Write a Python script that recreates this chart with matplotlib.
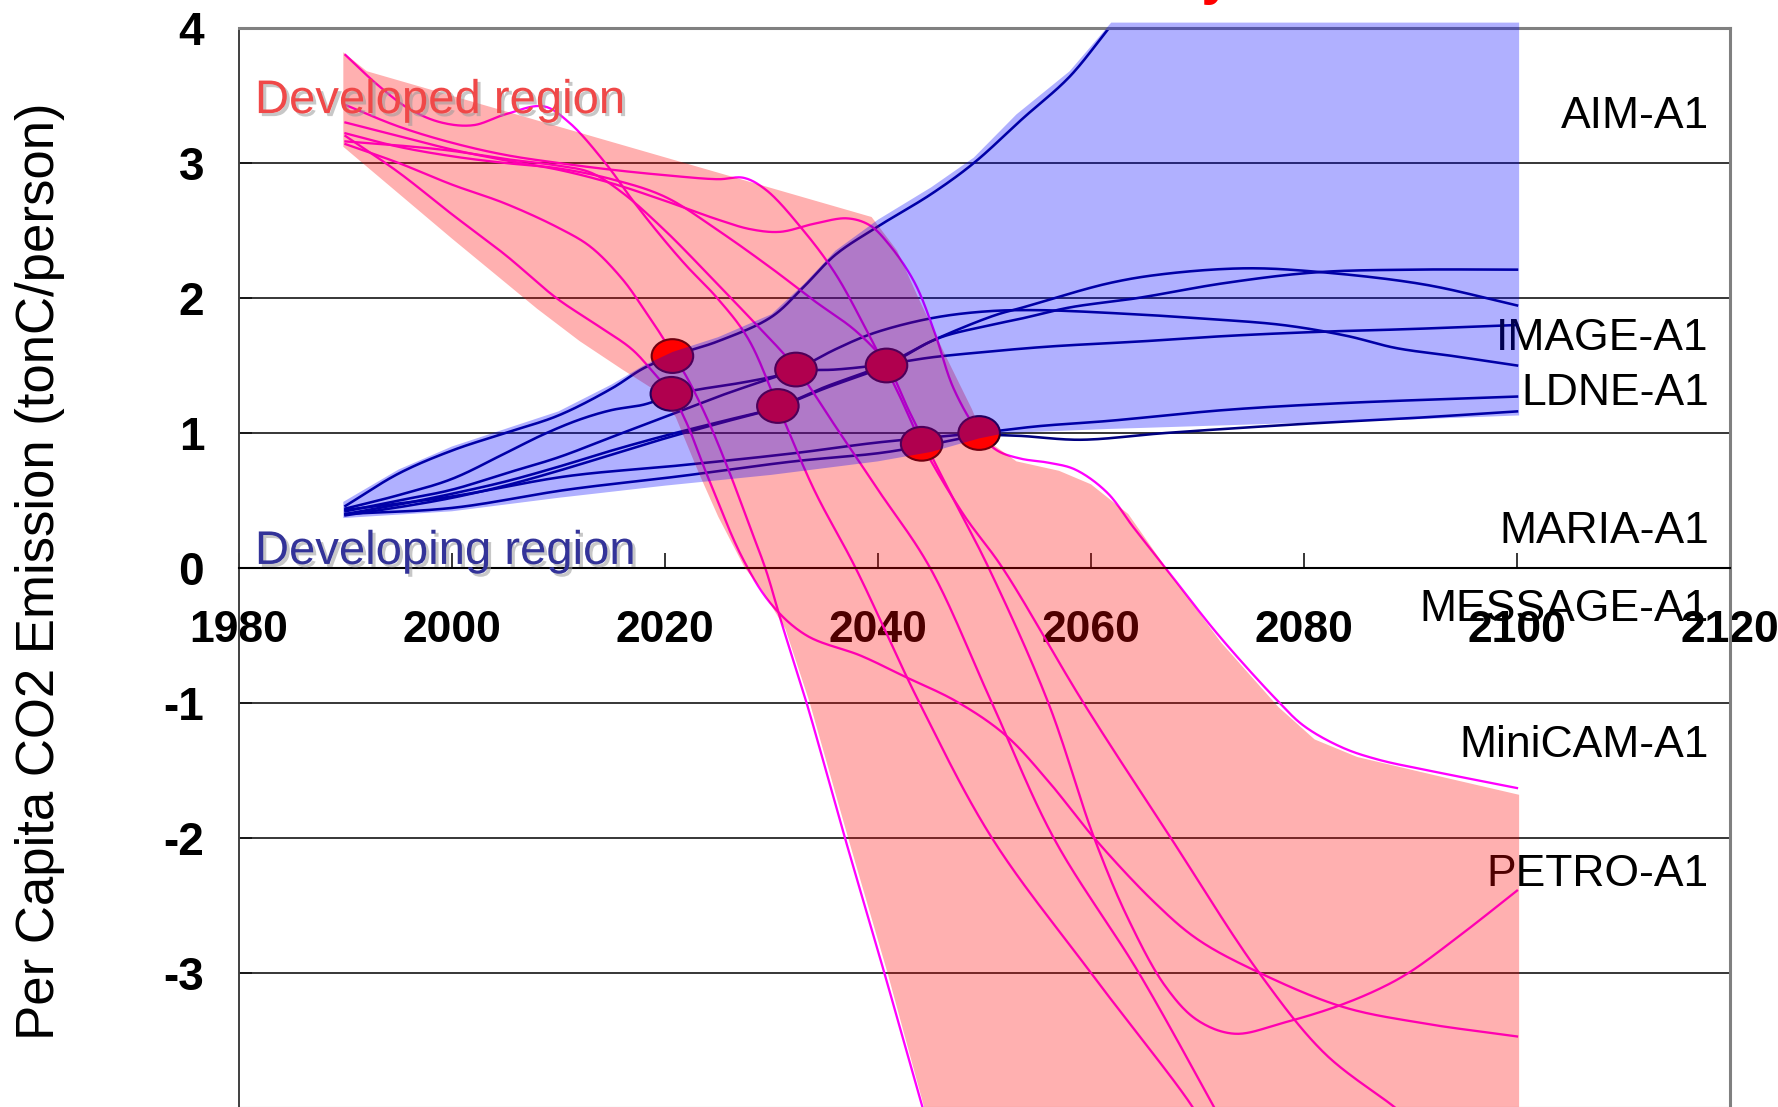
import numpy as np
import matplotlib
matplotlib.use("Agg")
import matplotlib.pyplot as plt
from matplotlib.patches import Ellipse
import matplotlib.patheffects as pe
from matplotlib import font_manager

plt.rcParams['axes.unicode_minus'] = False


def pick_font(cands):
    for c in cands:
        try:
            font_manager.findfont(font_manager.FontProperties(family=c),
                                  fallback_to_default=False)
            return c
        except Exception:
            pass
    return 'DejaVu Sans'


SANS = pick_font(['Liberation Sans', 'Arial', 'DejaVu Sans'])

# ---------------------------------------------------------------- data
x_ticks = [1980, 2000, 2020, 2040, 2060, 2080, 2100, 2120]
y_ticks = [-3, -2, -1, 0, 1, 2, 3, 4]

# developed-region scenarios (year, tC/person)
developed_1 = [(1990, 3.80), (1993, 3.58), (1996, 3.40), (1999, 3.30), (2002, 3.28),
               (2005, 3.36), (2008.6, 3.42), (2011, 3.30), (2014.4, 3.00), (2017, 2.72),
               (2019.5, 2.47), (2022, 2.24), (2024.9, 2.00), (2027.8, 1.70), (2030.6, 1.20),
               (2034, 0.58), (2037.9, 0.0), (2043.9, -1.0), (2050.7, -2.0), (2060, -3.0),
               (2069.6, -4.0), (2071, -4.2)]
developed_2 = [(1990, 3.43), (1995, 3.27), (2000, 3.15), (2005, 3.06), (2010, 3.00),
               (2015, 2.95), (2020, 2.91), (2025, 2.88), (2027.4, 2.89), (2029.5, 2.80),
               (2033, 2.50), (2036, 2.18), (2039, 1.75), (2042, 1.28), (2044.1, 0.92),
               (2048, 0.40), (2051.7, 0.0), (2059.3, -1.0), (2067.5, -2.0), (2075.8, -3.0),
               (2082, -3.6), (2088.6, -4.0), (2090, -4.1)]
developed_3 = [(1990, 3.30), (1995, 3.20), (2000, 3.10), (2005, 3.02), (2010, 2.95),
               (2015, 2.85), (2020, 2.72), (2025, 2.58), (2028, 2.51), (2030.8, 2.49),
               (2034, 2.55), (2037.1, 2.59), (2039.2, 2.54), (2041, 2.40), (2043.4, 2.12),
               (2045.3, 1.75), (2047.1, 1.33), (2049.5, 1.00), (2051.2, 0.87), (2053.4, 0.81),
               (2056, 0.78), (2058.5, 0.73), (2061.5, 0.56), (2064, 0.30), (2067, 0.0),
               (2072, -0.5), (2077.6, -0.99), (2080, -1.17), (2083.6, -1.33), (2087, -1.42),
               (2091.7, -1.50), (2100, -1.63)]
developed_4 = [(1990, 3.20), (1995, 2.93), (2000, 2.62), (2005, 2.32), (2009.8, 2.00),
               (2013.6, 1.80), (2016.9, 1.62), (2019, 1.44), (2020.6, 1.29), (2022, 1.08),
               (2024, 0.68), (2027.3, 0.07), (2030, -0.27), (2033.3, -0.50), (2038.4, -0.65),
               (2042.4, -0.80), (2047.4, -0.99), (2052, -1.24), (2056, -1.58), (2060.3, -2.0),
               (2066, -2.48), (2070, -2.75), (2075.6, -2.99), (2083.6, -3.25), (2091, -3.37),
               (2100, -3.47)]
developed_5 = [(1990, 3.14), (1995, 3.00), (2000, 2.84), (2005, 2.70), (2010, 2.52),
               (2013, 2.38), (2016, 2.14), (2018, 1.92), (2020, 1.68), (2020.7, 1.58),
               (2022, 1.42), (2024, 1.10), (2026, 0.72), (2028, 0.30), (2029.5, -0.02),
               (2031, -0.42), (2033.3, -1.0), (2036.9, -2.0), (2040.6, -3.0), (2044.2, -4.0),
               (2045, -4.2)]
developed_6 = [(1990, 3.16), (1995, 3.13), (2000, 3.09), (2005, 3.03), (2010, 2.98),
               (2013, 2.93), (2016, 2.78), (2020, 2.50), (2024, 2.18), (2028, 1.85),
               (2032.3, 1.48), (2036, 1.05), (2040, 0.58), (2044.9, 0.0), (2050.7, -1.0),
               (2056.5, -2.0), (2064.5, -3.0), (2071.6, -4.0), (2073, -4.2)]
developed_7 = [(1990, 3.22), (1995, 3.12), (2000, 3.05), (2005, 3.00), (2010, 2.96),
               (2015, 2.88), (2020, 2.75), (2025, 2.50), (2030, 2.22), (2034, 1.98),
               (2038, 1.75), (2040.8, 1.51), (2043, 1.15), (2046.5, 0.60), (2050.4, 0.0),
               (2056, -1.0), (2060.3, -2.0), (2063.5, -2.6), (2067, -3.1), (2070, -3.35),
               (2073.5, -3.45), (2078, -3.37), (2083, -3.25), (2087, -3.12), (2090, -2.99),
               (2095, -2.70), (2100, -2.39)]

# developing-region scenarios (year, tC/person)
developing_1 = [(1990, 0.46), (1995, 0.70), (2000, 0.87), (2005, 1.00), (2010, 1.13),
                (2015, 1.33), (2018, 1.48), (2020.7, 1.57), (2025, 1.68), (2030, 1.86),
                (2033, 2.08), (2036, 2.32), (2040, 2.53), (2045, 2.77), (2049, 3.00),
                (2053.6, 3.33), (2058, 3.64), (2061.7, 4.0), (2063, 4.12)]
developing_2 = [(1990, 0.44), (1995, 0.54), (2000, 0.66), (2005, 0.85), (2008.6, 0.99),
                (2012, 1.10), (2015, 1.17), (2018, 1.21), (2020.7, 1.28), (2023, 1.32),
                (2027, 1.37), (2030.3, 1.42), (2032.3, 1.46), (2036, 1.47), (2040.8, 1.51),
                (2045, 1.56), (2050, 1.60), (2056, 1.64), (2065, 1.68), (2073, 1.72),
                (2081.6, 1.75), (2090, 1.77), (2100, 1.80)]
developing_3 = [(1990, 0.42), (1995, 0.50), (2000, 0.58), (2005, 0.70), (2010, 0.82),
                (2015, 0.97), (2020, 1.12), (2025, 1.27), (2029, 1.38), (2032.3, 1.47),
                (2036, 1.62), (2039.6, 1.74), (2045, 1.85), (2050, 1.90), (2055, 1.91),
                (2064, 1.88), (2070, 1.85), (2078, 1.80), (2084, 1.72), (2088.6, 1.63),
                (2094, 1.57), (2100, 1.50)]
developing_4 = [(1990, 0.40), (1995, 0.47), (2000, 0.55), (2005, 0.64), (2010, 0.75),
                (2015, 0.87), (2020, 0.98), (2025, 1.08), (2030.5, 1.19), (2035, 1.33),
                (2040.8, 1.50), (2045.6, 1.70), (2050, 1.79), (2053.6, 1.85), (2058, 1.93),
                (2064.4, 2.00), (2072.5, 2.11), (2081.1, 2.19), (2090, 2.21), (2100, 2.21)]
developing_5 = [(1990, 0.39), (1995, 0.45), (2000, 0.52), (2005, 0.61), (2010, 0.72),
                (2015, 0.84), (2020, 0.96), (2025, 1.07), (2030.5, 1.19), (2035, 1.34),
                (2040.8, 1.51), (2045, 1.68), (2050.9, 1.87), (2053.6, 1.93), (2061.7, 2.11),
                (2067.1, 2.18), (2074.6, 2.22), (2081.1, 2.195), (2091.3, 2.10), (2100, 1.945)]
developing_6 = [(1990, 0.43), (2000, 0.53), (2010.8, 0.68), (2021.4, 0.76), (2032.1, 0.85),
                (2040, 0.93), (2049.5, 1.00), (2055, 1.05), (2061.7, 1.09), (2072.5, 1.17),
                (2083.2, 1.22), (2100, 1.27)]
developing_7 = [(1990, 0.40), (2000, 0.445), (2010.8, 0.58), (2021.4, 0.68), (2032.1, 0.79),
                (2040, 0.85), (2044, 0.90), (2049.5, 0.98), (2053, 0.98), (2059, 0.95),
                (2067, 1.00), (2080.5, 1.07), (2090, 1.11), (2100, 1.16)]

# year in which developing-region per-capita emission overtakes developed
cross_years = [2020.7, 2020.6, 2032.3, 2030.6, 2040.8, 2044.1, 2049.5]
cross_values = [1.57, 1.29, 1.47, 1.20, 1.50, 0.92, 1.00]

# range bands
developed_band_upper = [(1989.8, 3.82), (1992, 3.68), (2039.4, 2.60), (2041.8, 2.35),
                        (2043.8, 2.00), (2046.3, 1.58), (2048.8, 1.18), (2050, 0.96),
                        (2053, 0.79), (2057, 0.72), (2060, 0.62), (2063.5, 0.40),
                        (2067.5, -0.05), (2072.2, -0.55), (2077.6, -1.03), (2081, -1.27),
                        (2085, -1.40), (2092, -1.53), (2100.2, -1.68), (2100.2, -4.1)]
developed_band_lower = [(1989.8, 3.12), (2000, 2.44), (2008, 1.92), (2012, 1.68),
                        (2016, 1.47), (2019, 1.32), (2021, 1.12), (2023.2, 0.70),
                        (2025, 0.38), (2027.5, 0.0), (2029, -0.15), (2031.3, -0.45),
                        (2033.6, -1.0), (2037.2, -2.0), (2040.9, -3.0), (2044.7, -4.1)]
developing_band_upper = [(1989.8, 0.49), (1995, 0.73), (2000, 0.90), (2005, 1.03),
                         (2010, 1.16), (2015, 1.36), (2018, 1.50), (2020.7, 1.60),
                         (2025, 1.71), (2030, 1.88), (2033, 2.10), (2036, 2.35),
                         (2040, 2.58), (2045, 2.82), (2049, 3.04), (2053, 3.36),
                         (2058, 3.68), (2061.9, 4.04), (2100.2, 4.04)]
developing_band_lower = [(1989.8, 0.37), (2000, 0.42), (2010, 0.52), (2020, 0.61),
                         (2030, 0.69), (2040, 0.79), (2045, 0.86), (2049.5, 0.96),
                         (2052, 1.00), (2061.7, 1.03), (2077.8, 1.07), (2090, 1.10),
                         (2100.2, 1.13)]

model_names = ['AIM-A1', 'IMAGE-A1', 'LDNE-A1', 'MARIA-A1', 'MESSAGE-A1',
               'MiniCAM-A1', 'PETRO-A1']
model_label_y = [3.26, 1.615, 1.207, 0.185, -0.393, -1.40, -2.356]

developed_lines = [developed_1, developed_2, developed_3, developed_4,
                   developed_5, developed_6, developed_7]
developing_lines = [developing_1, developing_2, developing_3, developing_4,
                    developing_5, developing_6, developing_7]


def smooth(pts, n=24, yscale=12.7):
    """Centripetal Catmull-Rom curve through the given points."""
    p = np.array(pts, dtype=float)
    p[:, 1] *= yscale
    ext = np.vstack([2 * p[0] - p[1], p, 2 * p[-1] - p[-2]])
    out = [p[:1]]
    for i in range(1, len(ext) - 2):
        p0, p1, p2, p3 = ext[i - 1], ext[i], ext[i + 1], ext[i + 2]
        t0 = 0.0
        t1 = t0 + max(np.hypot(*(p1 - p0)) ** 0.5, 1e-6)
        t2 = t1 + max(np.hypot(*(p2 - p1)) ** 0.5, 1e-6)
        t3 = t2 + max(np.hypot(*(p3 - p2)) ** 0.5, 1e-6)
        t = np.linspace(t1, t2, n)[1:, None]
        a1 = (t1 - t) / (t1 - t0) * p0 + (t - t0) / (t1 - t0) * p1
        a2 = (t2 - t) / (t2 - t1) * p1 + (t - t1) / (t2 - t1) * p2
        a3 = (t3 - t) / (t3 - t2) * p2 + (t - t2) / (t3 - t2) * p3
        b1 = (t2 - t) / (t2 - t0) * a1 + (t - t0) / (t2 - t0) * a2
        b2 = (t3 - t) / (t3 - t1) * a2 + (t - t1) / (t3 - t1) * a3
        c = (t2 - t) / (t2 - t1) * b1 + (t - t1) / (t2 - t1) * b2
        out.append(c)
    c = np.vstack(out)
    return c[:, 0], c[:, 1] / yscale


# ---------------------------------------------------------------- figure
fig = plt.figure(figsize=(17.78, 11.07), dpi=100)
ax = fig.add_axes([0.1344, -0.0009, 0.8386, 0.9756])
ax.set_xlim(1980, 2120)
ax.set_ylim(-4, 4)

# frame
for side in ('top', 'right'):
    ax.spines[side].set_color('#808080')
    ax.spines[side].set_linewidth(2.2)
ax.spines['left'].set_color('#404040')
ax.spines['left'].set_linewidth(1.4)
ax.spines['bottom'].set_position(('data', 0))
ax.spines['bottom'].set_color('black')
ax.spines['bottom'].set_linewidth(1.5)
ax.axhline(-4, color='#808080', lw=2.2, clip_on=False, zorder=2.5)

for yv in y_ticks[:-1]:
    if yv != 0:
        ax.axhline(yv, color='black', lw=1.1, zorder=1.6)

ax.set_xticks(x_ticks)
ax.set_xticklabels([str(v) for v in x_ticks], fontsize=32, fontweight='bold', family=SANS)
ax.set_yticks(y_ticks)
ax.set_yticklabels([str(v) for v in y_ticks], fontsize=33, fontweight='bold', family=SANS)
ax.tick_params(axis='x', direction='in', length=10.8, width=1.1, pad=30, color='black')
ax.tick_params(axis='y', direction='in', length=9, width=1.1, pad=25, color='#404040')

ax.set_ylabel('Per Capita CO2 Emission (tonC/person)', fontsize=38, family=SANS)
ax.yaxis.set_label_coords(-0.1167, 0.497)

# scenario trajectories
for pts in developing_lines:
    x, y = smooth(pts)
    ax.plot(x, y, color='#000080', lw=1.85, zorder=2)
for pts in developed_lines:
    x, y = smooth(pts)
    ax.plot(x, y, color='#FF00FF', lw=1.65, zorder=2.1)

for cx, cy in zip(cross_years, cross_values):
    ax.add_patch(Ellipse((cx, cy), 3.9, 0.25, facecolor='#FF0000',
                         edgecolor='#300018', lw=1.5, zorder=2.4))

for name, yv in zip(model_names, model_label_y):
    ax.text(2118, yv, name, ha='right', va='baseline', fontsize=32,
            family=SANS, color='black', zorder=2.6)

# translucent range bands laid over everything
pu = np.array(developed_band_upper)
pl = np.array(developed_band_lower)[::-1]
ax.fill(np.r_[pu[:, 0], pl[:, 0]], np.r_[pu[:, 1], pl[:, 1]],
        color=(1, 0, 0), alpha=0.31, lw=0, zorder=3)
bu = np.array(developing_band_upper)
bl = np.array(developing_band_lower)[::-1]
ax.fill(np.r_[bu[:, 0], bl[:, 0]], np.r_[bu[:, 1], bl[:, 1]],
        color=(0, 0, 1), alpha=0.31, lw=0, zorder=3.1, clip_on=False)

shadow = [pe.SimplePatchShadow(offset=(2.2, -2.2), shadow_rgbFace='#9a9a9a', alpha=0.55),
          pe.Normal()]
ax.text(1981.5, 3.37, 'Developed region', fontsize=34, family=SANS,
        color='#F04848', ha='left', va='baseline', zorder=5, path_effects=shadow)
ax.text(1981.5, 0.03, 'Developing region', fontsize=34, family=SANS,
        color='#333399', ha='left', va='baseline', zorder=5, path_effects=shadow)

fig.text(0.693, 1.006, 'Emission Parity', color='red', fontweight='bold',
         fontsize=40, family=SANS, ha='right', va='baseline')

fig.savefig('out.png', dpi=100)
